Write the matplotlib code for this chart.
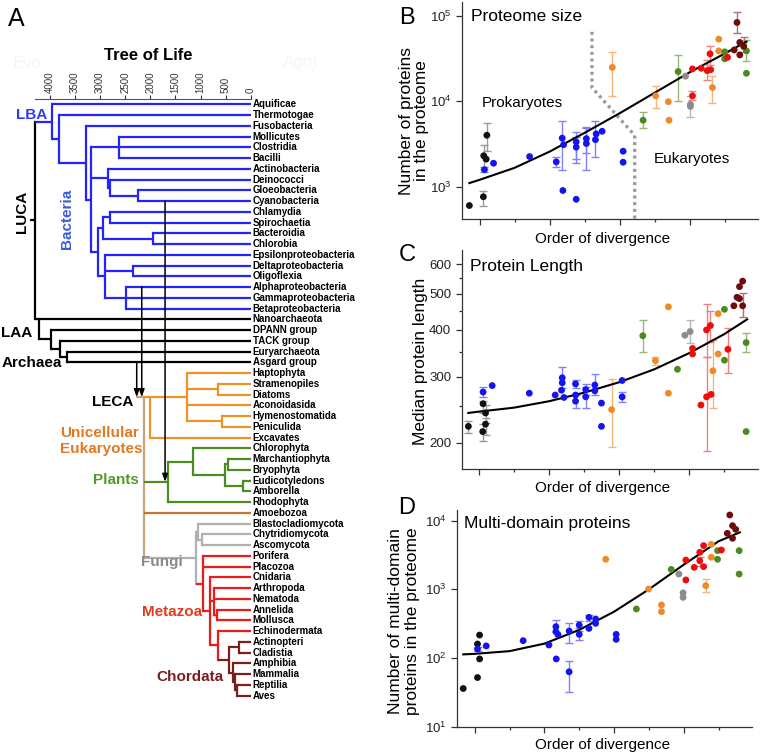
import numpy as np
import matplotlib
matplotlib.use("Agg")
import matplotlib.pyplot as plt
from matplotlib.ticker import FixedLocator, NullLocator, LogFormatterSciNotation, FuncFormatter

plt.rcParams['font.family'] = ['Liberation Sans', 'DejaVu Sans']
plt.rcParams['mathtext.fontset'] = 'custom'
plt.rcParams['mathtext.rm'] = 'Liberation Sans'
plt.rcParams['mathtext.it'] = 'Liberation Sans:italic'
plt.rcParams['mathtext.bf'] = 'Liberation Sans:bold'

W, H = 762, 755

# ---------------- panel A data: tree of life, node ages in Mya ----------------
BLUE, ORANGE, GREEN = "#2424ff", "#f0922c", "#4c8c22"
GRAY, RED, DARKRED, TAN = "#b0b0b0", "#ee1a1a", "#7a1e1e", "#c8a47c"
LEAF_COLORS = {"Amoebozoa": "#c8742e"}

# (name, age, colour, children)
LBA = ("LBA", 3960, BLUE, [
    "Aquificae",
    ("", 3821, None, [
        "Thermotogae",
        ("", 3278, None, [
            "Fusobacteria",
            ("", 3184, None, [
                ("", 2621, None, ["Mollicutes", "Clostridia", "Bacilli"]),
                ("", 2834, None, ["Actinobacteria",
                                  ("", 2794, None, ["Deinococci",
                                                    ("", 2243, None, ["Gloeobacteria", "Cyanobacteria"])])]),
                ("", 3045, None, [
                    ("", 2933, None, [("", 2800, None, ["Chlamydia", "Spirochaetia"]),
                                      ("", 1944, None, ["Bacteroidia", "Chlorobia"])]),
                    ("", 2900, None, ["Epsilonproteobacteria",
                                      ("", 2336, None, ["Deltaproteobacteria", "Oligoflexia"]),
                                      ("", 2475, None, ["Alphaproteobacteria", "Gammaproteobacteria",
                                                        "Betaproteobacteria"])])])])])])])
LAA = ("LAA", 4213, "k", [
    "Nanoarchaeota",
    ("", 3980, None, ["DPANN group",
                      ("", 3795, None, ["TACK group",
                                        ("", 3662, None, ["Euryarchaeota", "Asgard group"])])])])
LUCA = ("LUCA", 4292, "k", [LBA, LAA])

LECA = ("LECA", 2123, TAN, [
    ("U0", 2004, ORANGE, [
        ("", 1274, None, ["Haptophyta", ("", 645, None, ["Stramenopiles", "Diatoms"]),
                          "Aconoidasida", ("", 565, None, ["Hymenostomatida", "Peniculida"])]),
        "Excavates"]),
    ("Plants", 1652, GREEN, [
        ("", 1142, None, ["Chlorophyta",
                          ("", 511, None, [("", 458, None, ["Marchantiophyta", "Bryophyta"]),
                                           ("", 160, None, ["Eudicotyledons", "Amborella"])])]),
        "Rhodophyta"]),
    "Amoebozoa",
    ("", 1098, GRAY, [
        ("", 1044, None, ["Blastocladiomycota", ("", 969, None, ["Chytridiomycota", "Ascomycota"])]),
        ("", 955, RED, ["Porifera", "Placozoa",
                        ("", 810, None, [
                            "Cnidaria",
                            ("", 728, None, ["Arthropoda", "Nematoda", ("", 665, None, ["Annelida", "Mollusca"])]),
                            ("", 645, None, [
                                "Echinodermata",
                                ("", 426, DARKRED, [
                                    ("", 227, None, ["Actinopteri", "Cladistia"]),
                                    ("", 346, None, ["Amphibia",
                                                     ("", 306, None, ["Mammalia",
                                                                      ("", 266, None, ["Reptilia", "Aves"])])])])])])])])])
TOP_STEM = {"LAA", "LECA", "U0"}
ROOT_STEMS = [(LUCA, 4392, "k"), (LECA, 2290, TAN)]
# (from taxon, to node, age of transfer line)
ARROWS = [("Asgard group", "LECA", 2269), ("Alphaproteobacteria", "LECA", 2169),
          ("Cyanobacteria", "Plants", 1705)]
TIME_TICKS = list(range(0, 4001, 500))

# ---------------- panels B-D data ----------------
GROUP_COLORS = {"k": "#111111", "b": "#1414ee", "o": "#ee8a2a", "g": "#4a8a1e",
                "f": "#8c8c8c", "r": "#ee0c0c", "d": "#6e0c0c"}
ERR_COLORS = {"k": "#9a9a9a", "b": "#8080ff", "o": "#f5b478", "g": "#94bb78",
              "f": "#b8b8b8", "r": "#f08080", "d": "#b07070"}
N = None

B_x = [-0.29, 0.11, 0.12, 0.19, 0.21,
       0.14, 0.40, 1.43, 2.19, 2.36, 2.40, 2.38, 2.76, 2.76, 2.76, 3.05, 3.05, 3.31, 3.33, 3.50, 4.10, 4.10,
       3.79, 5.03, 5.39, 5.41, 6.65, 6.83, 6.83,
       4.67, 5.67, 7.00, 7.00, 7.62, 7.62,
       5.88, 6.02, 6.02,
       6.08, 6.08, 6.33, 6.50, 6.60, 6.58, 7.08,
       7.35, 7.27, 7.43, 7.43, 7.54]
B_y = [600, 760, 2300, 2100, 4000,
       1580, 1880, 2250, 1950, 3700, 3100, 900, 2900, 3350, 710, 3200, 3650, 3550, 4150, 4450, 2600, 1930,
       25000, 11600, 9900, 6000, 14500, 53500, 39000,
       6000, 22300, 38000, 31500, 39000, 21300,
       19700, 9200, 8700,
       11600, 24000, 24400, 22900, 23500, 36000, 32800,
       84000, 40000, 49000, 35000, 44000]
B_grp = "kkkkk" + "b" * 17 + "o" * 7 + "g" * 6 + "fff" + "r" * 7 + "d" * 5
B_lo = [N, 590, 1600, N, 2600,
        1480, N, N, 1700, 1550, N, N, 1900, 2100, N, 1580, 2500, 2250, N, N, N, N,
        11400, 8300, N, N, 9500, N, N,
        4800, 10000, N, N, 30000, N,
        N, 6600, N,
        10400, N, N, 17800, N, 27000, N,
        63000, N, N, N, 38000]
B_hi = [N, 900, 3100, N, 5500,
        1700, N, N, 2200, 5800, N, N, 3800, 4400, N, 5000, 4800, 5900, N, N, N, N,
        38000, 15000, N, N, 20000, N, N,
        7500, 35000, N, N, 52000, N,
        N, 11400, N,
        13200, N, N, 30600, N, 45000, N,
        110000, N, N, N, 56000]
B_fit_x = [-0.29, 0, 1, 2, 3, 4, 5, 6, 7, 7.62]
B_fit_y = [1100, 1200, 1660, 2570, 4270, 7240, 12600, 21900, 36300, 50100]
B_div_x = [3.21, 3.21, 4.43, 4.43]
B_div_y = [65300, 14500, 3980, 420]

C_x = [-0.31, 0.10, 0.11, 0.18, 0.18,
       0.11, 0.37, 1.43, 2.17, 2.35, 2.37, 2.37, 2.42, 2.75, 2.75, 2.75, 3.04, 3.04, 3.30, 3.30, 3.49, 3.49,
       4.08, 4.08,
       3.78, 5.03, 5.40, 5.40, 6.67, 6.82, 6.82,
       4.67, 5.66, 7.00, 7.00, 7.62, 7.62,
       5.87, 6.02,
       6.09, 6.09, 6.33, 6.49, 6.49, 6.60, 6.62, 7.10,
       7.27, 7.36, 7.43, 7.43, 7.52, 7.52]
C_y = [221, 214, 254, 240, 224,
       273, 284, 271, 268, 276, 298, 289, 264, 287, 268, 258, 265, 277, 285, 275, 255, 221,
       293, 265,
       245, 331, 461, 271, 311, 442, 345,
       386, 314, 454, 332, 370, 214,
       387, 396,
       357, 345, 252, 400, 265, 411, 269, 355,
       464, 489, 485, 522, 540, 464]
C_grp = "kkkkk" + "b" * 19 + "o" * 7 + "g" * 6 + "ff" + "r" * 8 + "d" * 6
C_lo = [212, 202, 240, 226, 210,
        265, N, N, N, N, 280, N, N, 280, N, 248, 248, 268, 268, N, N, N,
        N, 257,
        195, 323, N, N, 247, N, N,
        349, N, N, N, 349, N,
        N, 370,
        N, N, N, 338, 190, 372, N, 307,
        N, N, N, N, N, 434]
C_hi = [229, 224, 258, 252, 232,
        281, N, N, N, N, 318, N, N, 294, N, 268, 282, 286, 305, N, N, N,
        N, 273,
        295, 338, N, N, 375, N, N,
        424, N, N, N, 392, N,
        N, 425,
        N, N, N, 470, 338, 450, N, 405,
        N, N, N, N, N, 501]
C_fit_x = [-0.31, 0, 1, 2, 3, 4, 5, 6, 7, 7.65]
C_fit_y = [240, 242, 248, 258, 272, 290, 314, 347, 390, 427]

D_x = [-0.33, 0.08, 0.08, 0.14, 0.14,
       0.08, 0.33, 1.39, 2.13, 2.33, 2.33, 2.34, 2.39, 2.71, 2.71, 3.00, 3.00, 3.28, 3.28, 3.47, 3.47,
       4.06, 4.06,
       3.76, 4.99, 5.36, 5.36, 6.63, 6.79, 6.79,
       4.64, 5.64, 6.97, 6.97, 7.59, 7.59,
       5.86, 5.98, 5.98,
       6.06, 6.06, 6.30, 6.46, 6.46, 6.57, 6.57, 7.08,
       7.25, 7.32, 7.40, 7.49, 7.40]
D_y = [36, 52, 160, 216, 97,
       135, 150, 179, 155, 286, 242, 97, 219, 247, 63, 302, 221, 391, 270, 370, 320,
       221, 187,
       2740, 1010, 592, 473, 1130, 4520, 2930,
       518, 1950, 3660, 2740, 3660, 1670,
       1670, 890, 764,
       2670, 1370, 2090, 3460, 2610, 4330, 2140, 3740,
       6540, 12100, 8460, 7490, 5540]
D_grp = "kkkkk" + "b" * 18 + "o" * 7 + "g" * 6 + "fff" + "r" * 8 + "d" * 5
D_lo = [N, N, N, N, N,
        125, N, N, N, 240, N, N, N, 163, 32, 270, 180, 350, N, N, N,
        N, N,
        N, N, N, N, 900, N, N,
        N, N, N, N, N, N,
        N, N, N,
        N, N, N, N, 2200, N, N, N,
        N, N, N, N, N]
D_hi = [N, N, N, N, N,
        145, N, N, N, 360, N, N, N, 320, 92, 350, 250, 420, N, N, N,
        N, N,
        N, N, N, N, 1400, N, N,
        N, N, N, N, N, N,
        N, N, N,
        N, N, N, N, 3000, N, N, N,
        N, N, N, N, N]
D_fit_x = [-0.33, 0, 1, 2, 3, 4, 5, 6, 7, 7.61]
D_fit_y = [113, 115, 126, 162, 257, 473, 1000, 2290, 5010, 6760]

# ---------------- figure ----------------
fig = plt.figure(figsize=(W / 100, H / 100), dpi=100)


def ftext(px, py, s, **kw):
    return fig.text(px / W, 1 - py / H, s, **kw)


# ---- panel A ----
ax = fig.add_axes([0, 0, 380 / W, 1 - 99 / H])
ax.set_xlim(4989, -2571)
ax.set_ylim(60.53, -0.493)
LW = 1.6


def leaves_of(node, out):
    if isinstance(node, str):
        out.append(node)
    else:
        for k in node[3]:
            leaves_of(k, out)
    return out


taxa = leaves_of(LUCA, []) + leaves_of(LECA, [])
row = {name: i for i, name in enumerate(taxa)}


def node_y(node):
    if isinstance(node, str):
        return row[node]
    ys = [node_y(k) for k in node[3]]
    return ys[0] if node[0] in TOP_STEM else (ys[0] + ys[-1]) / 2


def find(node, name):
    if isinstance(node, str):
        return None
    if node[0] == name:
        return node
    for k in node[3]:
        hit = find(k, name)
        if hit is not None:
            return hit
    return None


def draw(node, parent_age, color):
    if isinstance(node, str):
        y = row[node]
        ax.plot([parent_age, 0], [y, y], color=LEAF_COLORS.get(node, color), lw=LW,
                solid_capstyle='butt')
        ax.annotate(node, (0, y), xytext=(1.5, 0), textcoords='offset points', ha='left',
                    va='center', fontsize=7, fontweight='bold', annotation_clip=False)
        return
    name, age, c, kids = node
    c = c or color
    ys = [node_y(k) for k in kids]
    ax.plot([age, age], [ys[0], ys[-1]], color=c, lw=LW, solid_capstyle='projecting')
    y = node_y(node)
    ax.plot([parent_age, age], [y, y], color=c, lw=LW, solid_capstyle='butt')
    for k in kids:
        draw(k, age, c)


for root, stem_age, col in ROOT_STEMS:
    draw(root, stem_age, col)

for src, dst, age in ARROWS:
    target = find(LUCA, dst) or find(LECA, dst)
    ax.annotate('', xy=(age, node_y(target)), xytext=(age, row[src]),
                arrowprops=dict(arrowstyle='-|>,head_length=0.45,head_width=0.16', color='k',
                                lw=1.1, shrinkA=0, shrinkB=0))

for s in ['left', 'right', 'bottom']:
    ax.spines[s].set_visible(False)
ax.spines['top'].set_bounds(0, 4290)
ax.spines['top'].set_color('#555555')
ax.xaxis.set_ticks_position('top')
ax.set_xticks(TIME_TICKS)
ax.tick_params(axis='x', direction='out', length=3, width=0.8, labelsize=7,
               labelrotation=90, pad=1.5, colors='#333333')
ax.set_yticks([])
ax.patch.set_visible(False)

ftext(16.5, 19, "A", fontsize=18, ha='center', va='center')
ftext(148, 56, "Tree of Life", fontsize=12, fontweight='bold', ha='center', va='center')
ftext(27, 63, "Evo", fontsize=12, color='#f6f6f6', ha='center', va='center')
ftext(301, 63, "Ago)", fontsize=12, color='#f6f6f6', ha='center', va='center')

bold = dict(fontsize=11, fontweight='bold', va='center')
ftext(31.5, 115, "LBA", color='#2f3cf0', ha='center', **bold)
ftext(21.7, 212, "LUCA", color='k', ha='center', rotation=90, **bold)
ftext(66.7, 219, "Bacteria", color='#3b5bd6', ha='center', rotation=90, **bold)
ftext(17, 332.7, "LAA", color='k', ha='center', **bold)
ftext(32, 363.3, "Archaea", color='k', ha='center', **bold)
ftext(112.5, 401.7, "LECA", color='k', ha='center', **bold)
ftext(60, 441, "Unicellular\nEukaryotes", color='#e07a22', ha='left', linespacing=1.15, **bold)
ftext(115.5, 480, "Plants", color='#529a2a', ha='center', **bold)
ftext(161.5, 561.7, "Fungi", color='#8a8a8a', ha='center', **bold)
ftext(172, 611.7, "Metazoa", color='#e03c1e', ha='center', **bold)
ftext(190, 676.7, "Chordata", color='#7a1e1e', ha='center', **bold)


# ---- panels B-D ----
def scatter_panel(ax, x, y, grp, lo, hi, fit_x, fit_y):
    x = np.asarray(x, float)
    y = np.asarray(y, float)
    for i in range(len(x)):
        if lo[i] is not None:
            ax.errorbar([x[i]], [y[i]], yerr=[[y[i] - lo[i]], [hi[i] - y[i]]], fmt='none',
                        ecolor=ERR_COLORS[grp[i]], elinewidth=1.0, capsize=2.6, capthick=1.0,
                        zorder=1)
    ax.plot(fit_x, fit_y, color='k', lw=1.5, zorder=2, solid_joinstyle='round')
    cols = [GROUP_COLORS[g] for g in grp]
    ax.scatter(x, y, s=24, c=cols, edgecolors='none', zorder=3)
    ax.set_yscale('log')
    ax.set_xlim(-0.5, 7.95)
    for s in ['top', 'right']:
        ax.spines[s].set_visible(False)
    for s in ['left', 'bottom']:
        ax.spines[s].set_color('#333333')
        ax.spines[s].set_linewidth(0.9)
    ax.xaxis.set_major_locator(FixedLocator([0, 2, 4, 6]))
    ax.xaxis.set_minor_locator(FixedLocator([1, 3, 5, 7]))
    ax.set_xticklabels([])
    ax.tick_params(axis='x', which='major', direction='out', length=4, width=0.9, colors='#333333')
    ax.tick_params(axis='x', which='minor', direction='out', length=2.5, width=0.9, colors='#333333')
    ax.tick_params(axis='y', which='both', direction='out', width=0.9, colors='#333333',
                   labelsize=9.5, labelcolor='#222222')
    ax.tick_params(axis='y', which='major', length=4)
    ax.tick_params(axis='y', which='minor', length=2.5)
    ax.patch.set_visible(False)


axB = fig.add_axes([462 / W, 1 - 219 / H, 296 / W, 217 / H])
scatter_panel(axB, B_x, B_y, B_grp, B_lo, B_hi, B_fit_x, B_fit_y)
axB.plot(B_div_x, B_div_y, color='#9a9a9a', lw=2.4, ls=(0, (0.9, 1.1)), zorder=1)
axB.set_ylim(417, 146000)
axB.yaxis.set_major_locator(FixedLocator([1e3, 1e4, 1e5]))
axB.yaxis.set_major_formatter(LogFormatterSciNotation())
axB.yaxis.set_minor_locator(NullLocator())

axC = fig.add_axes([461.7 / W, 1 - 469 / H, 296 / W, 219 / H])
scatter_panel(axC, C_x, C_y, C_grp, C_lo, C_hi, C_fit_x, C_fit_y)
axC.set_ylim(170, 654)
axC.yaxis.set_major_locator(FixedLocator([200, 300, 400, 500, 600]))
axC.yaxis.set_major_formatter(FuncFormatter(lambda v, p: f"{v:.0f}"))
axC.yaxis.set_minor_locator(FixedLocator([250, 350, 450, 550]))
axC.yaxis.set_minor_formatter(FuncFormatter(lambda v, p: ""))

axD = fig.add_axes([457.3 / W, 1 - 726.7 / H, 294.4 / W, 216.7 / H])
scatter_panel(axD, D_x, D_y, D_grp, D_lo, D_hi, D_fit_x, D_fit_y)
axD.set_ylim(10, 14300)
axD.yaxis.set_major_locator(FixedLocator([1e1, 1e2, 1e3, 1e4]))
axD.yaxis.set_major_formatter(LogFormatterSciNotation())
axD.yaxis.set_minor_locator(NullLocator())

# panel letters, titles, axis labels
ftext(407, 18, "B", fontsize=17, ha='center', va='center')
ftext(407, 255, "C", fontsize=17, ha='center', va='center')
ftext(407, 508, "D", fontsize=17, ha='center', va='center')

ftext(470.7, 16.7, "Proteome size", fontsize=12.5, ha='left', va='center')
ftext(481.7, 103, "Prokaryotes", fontsize=11, ha='left', va='center')
ftext(654, 159, "Eukaryotes", fontsize=11, ha='left', va='center')
ftext(470, 266.7, "Protein Length", fontsize=12.5, ha='left', va='center')
ftext(464, 523.3, "Multi-domain proteins", fontsize=12.5, ha='left', va='center')

for yy in (239.3, 488.3, 745):
    ftext(603, yy, "Order of divergence", fontsize=11, ha='center', va='center')

ftext(414, 120.7, "Number of proteins\nin the proteome", fontsize=12.5, rotation=90,
      ha='center', va='center', linespacing=1.0)
ftext(420, 361.7, "Median protein length", fontsize=12.5, rotation=90, ha='center', va='center')
ftext(404, 620.7, "Number of multi-domain\nproteins in the proteome", fontsize=12.5, rotation=90,
      ha='center', va='center', linespacing=1.2)

fig.savefig("out.png", dpi=100)
